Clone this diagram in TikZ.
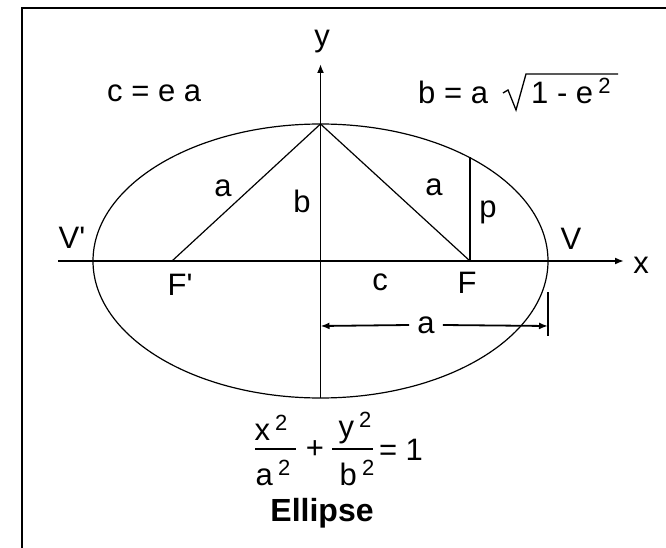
\documentclass[tikz,border=0pt]{standalone}
\usepackage{fontspec}
\setmainfont{Liberation Sans}
\newfontfamily\apofont{Liberation Sans}
\newcommand{\apo}{{\apofont'}}
\newcommand{\supt}{\raisebox{10pt}{\fontsize{22}{24}\selectfont 2}}
\usetikzlibrary{arrows.meta}
\tikzset{
  lbl/.style={inner sep=0pt, font=\fontsize{31}{34}\selectfont},
  axis/.style={line width=1.8pt},
  thin/.style={line width=1.2pt},
  tip/.style={-{Latex[length=9pt,width=7pt]}},
}
\begin{document}
\begin{tikzpicture}[x=1pt,y=-1pt]
\useasboundingbox (0,0) rectangle (666,548);
% frame
\draw[line width=2.5pt] (22,548) -- (22,8) -- (666,8);
% points
\coordinate (O) at (320.5,261);
\coordinate (T) at (320.5,124);
\coordinate (B) at (320.5,398);
\coordinate (Fp) at (172,261);
\coordinate (F) at (470,261);
\coordinate (P) at (470,157);
\coordinate (Xl) at (58,261);
\coordinate (Xr) at (624,261);
\coordinate (Yt) at (320.5,64);
% ellipse
\draw[thin] (O) ellipse [x radius=227.5, y radius=137];
% axes
\draw[axis,tip] (Xl) -- (Xr);
\draw[axis,tip] (B) -- (Yt);
% triangle
\draw[thin] (Fp) -- (T) -- (F);
\draw[axis] (F) -- (P);
% dimension a
\coordinate (D1) at (320.5,326);
\coordinate (D2) at (548,326);
\coordinate (K1) at (548,292);
\coordinate (K2) at (548,336);
\draw[axis] (K1) -- (K2);
\node[lbl] (da) at (426,325) {a};
\draw[axis,tip] (da.west) ++(-8,0) -- (D1);
\draw[axis,tip] (da.east) ++(8,0) -- (D2);
% labels
\node[lbl] (ylab) at (322,42) {y};
\node[lbl] (xlab) at (641,265) {x};
\node[lbl, anchor=base west] (ce) at (107,102) {c = e a};
\node[lbl, anchor=base west] (bb) at (418,104) {b = a};
\node[lbl, anchor=base west] (rad) at (531,104) {1 - e\,\supt};
\draw[line width=1.3pt] (503,93) -- (508,90) -- (516,110) -- (526,74) -- (618,74);
\node[lbl] (Vp) at (72,238) {V\apo};
\node[lbl] (V) at (571,239) {V};
\node[lbl] (Fpl) at (180,285) {F\apo};
\node[lbl] (Fl) at (467,283) {F};
\node[lbl] (cl) at (380,282) {c};
\node[lbl] (al) at (223,188) {a};
\node[lbl] (bl) at (302,201) {b};
\node[lbl] (ar) at (434,187) {a};
\node[lbl] (pl) at (488,212) {p};
% equation
\node[lbl] (n1) at (271,428) {x\,\supt};
\node[lbl] (d1) at (273,473) {a\,\supt};
\draw[line width=1.5pt] (255,449) -- (296,449);
\node[lbl] (plus) at (315,450) {+};
\node[lbl] (n2) at (355,428) {y\,\supt};
\node[lbl] (d2) at (357,473) {b\,\supt};
\draw[line width=1.5pt] (332,449) -- (373,449);
\node[lbl] (eq) at (401,450) {= 1};
\node[lbl, font=\fontsize{32}{36}\selectfont\bfseries] (title) at (322,513) {Ellipse};
\end{tikzpicture}
\end{document}
